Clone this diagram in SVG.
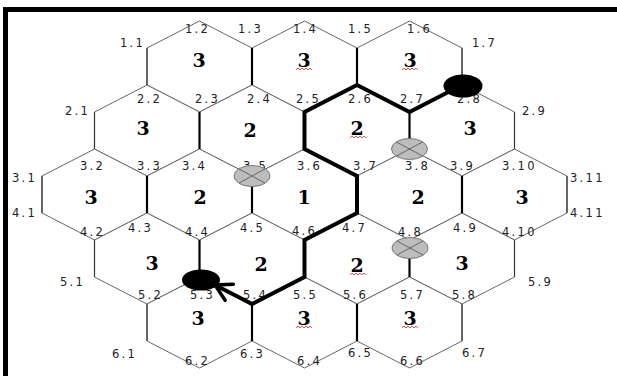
<svg xmlns="http://www.w3.org/2000/svg" width="617" height="376" viewBox="0 0 617 376">
<style>
.hex{fill:#fff;stroke:#666;stroke-width:1}
.num{font-family:"DejaVu Serif",serif;font-weight:bold;font-size:19px;fill:#000;text-anchor:middle}
.lbl{font-family:"DejaVu Sans",sans-serif;font-size:11.5px;fill:#222;letter-spacing:2.3px}
.bv{stroke:#333;stroke-width:1.2}
.iv{stroke:#000;stroke-width:2.2}
.sq{fill:none;stroke:#e02020;stroke-width:0.8}
.gray{fill:#bdbdbd;stroke:#777;stroke-width:1}
.x{stroke:#666;stroke-width:1}
</style>
<defs>
<marker id="arr" markerUnits="userSpaceOnUse" markerWidth="40" markerHeight="40" refX="0" refY="0" viewBox="-20 -20 40 40" orient="auto" overflow="visible">
<path d="M-16,-9 L0,0 L-16,9" fill="none" stroke="#000" stroke-width="3.5" stroke-linecap="round" stroke-linejoin="miter"/>
</marker>
</defs>
<rect width="617" height="376" fill="#fff"/>
<rect x="3" y="7" width="614" height="5" fill="#000"/>
<rect x="3" y="7" width="5" height="369" fill="#000"/>

<g id="hexes">
<g id="h1-1"><polygon class="hex" points="199.5,21 252,48 252,85 199.5,112 147,85 147,48"/><text class="num" x="199" y="67">3</text></g>
<g id="h1-2"><polygon class="hex" points="304.5,21 357,48 357,85 304.5,112 252,85 252,48"/><text class="num" x="304" y="67">3</text></g>
<g id="h1-3"><polygon class="hex" points="409.5,21 462,48 462,85 409.5,112 357,85 357,48"/><text class="num" x="410" y="67">3</text></g>

<g id="h2-1"><polygon class="hex" points="147,85 199.5,112 199.5,149 147,176 94.5,149 94.5,112"/><text class="num" x="143" y="135">3</text></g>
<g id="h2-2"><polygon class="hex" points="252,85 304.5,112 304.5,149 252,176 199.5,149 199.5,112"/><text class="num" x="250" y="137">2</text></g>
<g id="h2-3"><polygon class="hex" points="357,85 409.5,112 409.5,149 357,176 304.5,149 304.5,112"/><text class="num" x="357" y="135">2</text></g>
<g id="h2-4"><polygon class="hex" points="462,85 514.5,112 514.5,149 462,176 409.5,149 409.5,112"/><text class="num" x="470" y="135">3</text></g>

<g id="h3-1"><polygon class="hex" points="94.5,149 147,176 147,213 94.5,240 42,213 42,176"/><text class="num" x="91" y="204">3</text></g>
<g id="h3-2"><polygon class="hex" points="199.5,149 252,176 252,213 199.5,240 147,213 147,176"/><text class="num" x="200" y="204">2</text></g>
<g id="h3-3"><polygon class="hex" points="304.5,149 357,176 357,213 304.5,240 252,213 252,176"/><text class="num" x="304" y="204">1</text></g>
<g id="h3-4"><polygon class="hex" points="409.5,149 462,176 462,213 409.5,240 357,213 357,176"/><text class="num" x="418" y="204">2</text></g>
<g id="h3-5"><polygon class="hex" points="514.5,149 567,176 567,213 514.5,240 462,213 462,176"/><text class="num" x="522" y="204">3</text></g>

<g id="h4-1"><polygon class="hex" points="147,213 199.5,240 199.5,277 147,304 94.5,277 94.5,240"/><text class="num" x="152" y="270">3</text></g>
<g id="h4-2"><polygon class="hex" points="252,213 304.5,240 304.5,277 252,304 199.5,277 199.5,240"/><text class="num" x="261" y="271">2</text></g>
<g id="h4-3"><polygon class="hex" points="357,213 409.5,240 409.5,277 357,304 304.5,277 304.5,240"/><text class="num" x="357" y="272">2</text></g>
<g id="h4-4"><polygon class="hex" points="462,213 514.5,240 514.5,277 462,304 409.5,277 409.5,240"/><text class="num" x="462" y="270">3</text></g>

<g id="h5-1"><polygon class="hex" points="199.5,277 252,304 252,341 199.5,368 147,341 147,304"/><text class="num" x="198" y="325">3</text></g>
<g id="h5-2"><polygon class="hex" points="304.5,277 357,304 357,341 304.5,368 252,341 252,304"/><text class="num" x="304" y="325">3</text></g>
<g id="h5-3"><polygon class="hex" points="409.5,277 462,304 462,341 409.5,368 357,341 357,304"/><text class="num" x="410" y="325">3</text></g>
</g>

<g id="squiggles">
<polyline class="sq" points="296,70 298,68 300,70 302,68 304,70 306,68 308,70 310,68 312,70"/>
<polyline class="sq" points="402,70 404,68 406,70 408,68 410,70 412,68 414,70 416,68 418,70"/>
<polyline class="sq" points="350,138 352,136 354,138 356,136 358,138 360,136 362,138 364,136 366,138"/>
<polyline class="sq" points="350,275 352,273 354,275 356,273 358,275 360,273 362,275 364,273 366,275"/>
<polyline class="sq" points="296,328 298,326 300,328 302,326 304,328 306,326 308,328 310,326 312,328"/>
<polyline class="sq" points="402,328 404,326 406,328 408,326 410,328 412,326 414,328 416,326 418,328"/>
</g>

<g id="edges">
<line class="bv" x1="147" y1="48" x2="147" y2="85"/>
<line class="bv" x1="462" y1="48" x2="462" y2="85"/>
<line class="bv" x1="94.5" y1="112" x2="94.5" y2="149"/>
<line class="bv" x1="514.5" y1="112" x2="514.5" y2="149"/>
<line class="bv" x1="42" y1="176" x2="42" y2="213"/>
<line class="bv" x1="567" y1="176" x2="567" y2="213"/>
<line class="bv" x1="94.5" y1="240" x2="94.5" y2="277"/>
<line class="bv" x1="514.5" y1="240" x2="514.5" y2="277"/>
<line class="bv" x1="147" y1="304" x2="147" y2="341"/>
<line class="bv" x1="462" y1="304" x2="462" y2="341"/>
<line class="iv" x1="252" y1="48" x2="252" y2="85"/>
<line class="iv" x1="357" y1="48" x2="357" y2="85"/>
<line class="iv" x1="199.5" y1="112" x2="199.5" y2="149"/>
<line class="iv" x1="409.5" y1="112" x2="409.5" y2="149"/>
<line class="iv" x1="147" y1="176" x2="147" y2="213"/>
<line class="iv" x1="252" y1="176" x2="252" y2="213"/>
<line class="iv" x1="462" y1="176" x2="462" y2="213"/>
<line class="iv" x1="199.5" y1="240" x2="199.5" y2="277"/>
<line class="iv" x1="409.5" y1="240" x2="409.5" y2="277"/>
<line class="iv" x1="252" y1="304" x2="252" y2="341"/>
<line class="iv" x1="357" y1="304" x2="357" y2="341"/>
</g>

<g id="labels" class="lbl">
<text x="120" y="47">1.1</text>
<text x="185" y="33">1.2</text>
<text x="238" y="33">1.3</text>
<text x="293" y="33">1.4</text>
<text x="348" y="33">1.5</text>
<text x="407" y="33">1.6</text>
<text x="472" y="47">1.7</text>
<text x="65" y="115">2.1</text>
<text x="137" y="103">2.2</text>
<text x="195" y="103">2.3</text>
<text x="247" y="103">2.4</text>
<text x="296" y="103">2.5</text>
<text x="348" y="103">2.6</text>
<text x="400" y="103">2.7</text>
<text x="457" y="103">2.8</text>
<text x="522" y="115">2.9</text>
<text x="12" y="182">3.1</text>
<text x="80" y="170">3.2</text>
<text x="137" y="170">3.3</text>
<text x="182" y="170">3.4</text>
<text x="243" y="170">3.5</text>
<text x="297" y="170">3.6</text>
<text x="353" y="170">3.7</text>
<text x="405" y="170">3.8</text>
<text x="450" y="170">3.9</text>
<text x="502" y="170">3.10</text>
<text x="570" y="182">3.11</text>
<text x="12" y="217">4.1</text>
<text x="80" y="236">4.2</text>
<text x="128" y="232">4.3</text>
<text x="185" y="236">4.4</text>
<text x="240" y="232">4.5</text>
<text x="292" y="235">4.6</text>
<text x="342" y="232">4.7</text>
<text x="398" y="236">4.8</text>
<text x="453" y="232">4.9</text>
<text x="502" y="236">4.10</text>
<text x="570" y="217">4.11</text>
<text x="60" y="286">5.1</text>
<text x="138" y="299">5.2</text>
<text x="190" y="299">5.3</text>
<text x="243" y="299">5.4</text>
<text x="293" y="299">5.5</text>
<text x="343" y="299">5.6</text>
<text x="400" y="299">5.7</text>
<text x="452" y="299">5.8</text>
<text x="528" y="286">5.9</text>
<text x="112" y="358">6.1</text>
<text x="185" y="365">6.2</text>
<text x="240" y="358">6.3</text>
<text x="297" y="365">6.4</text>
<text x="348" y="357">6.5</text>
<text x="400" y="365">6.6</text>
<text x="462" y="357">6.7</text>
</g>

<g id="connectors">
<polyline points="462,85 409.5,112 357,85 304.5,112 304.5,149 357,176 357,213 304.5,240 304.5,277 252,304 215,285" fill="none" stroke="#000" stroke-width="4" stroke-linejoin="miter" marker-end="url(#arr)"/>
</g>

<g id="blocked-3-5"><ellipse class="gray" cx="252" cy="176" rx="18" ry="10.5"/><line class="x" x1="239" y1="169" x2="265" y2="183"/><line class="x" x1="239" y1="183" x2="265" y2="169"/></g>
<g id="blocked-3-8"><ellipse class="gray" cx="409.5" cy="149" rx="18" ry="10.5"/><line class="x" x1="396.5" y1="142" x2="422.5" y2="156"/><line class="x" x1="396.5" y1="156" x2="422.5" y2="142"/></g>
<g id="blocked-4-8"><ellipse class="gray" cx="410" cy="248" rx="18" ry="10.5"/><line class="x" x1="397" y1="241" x2="423" y2="255"/><line class="x" x1="397" y1="255" x2="423" y2="241"/></g>
<g id="start-2-8"><ellipse cx="463" cy="86" rx="19.5" ry="11.5" fill="#000"/></g>
<g id="end-5-3"><ellipse cx="201" cy="280" rx="19" ry="10.5" fill="#000"/></g>
</svg>
